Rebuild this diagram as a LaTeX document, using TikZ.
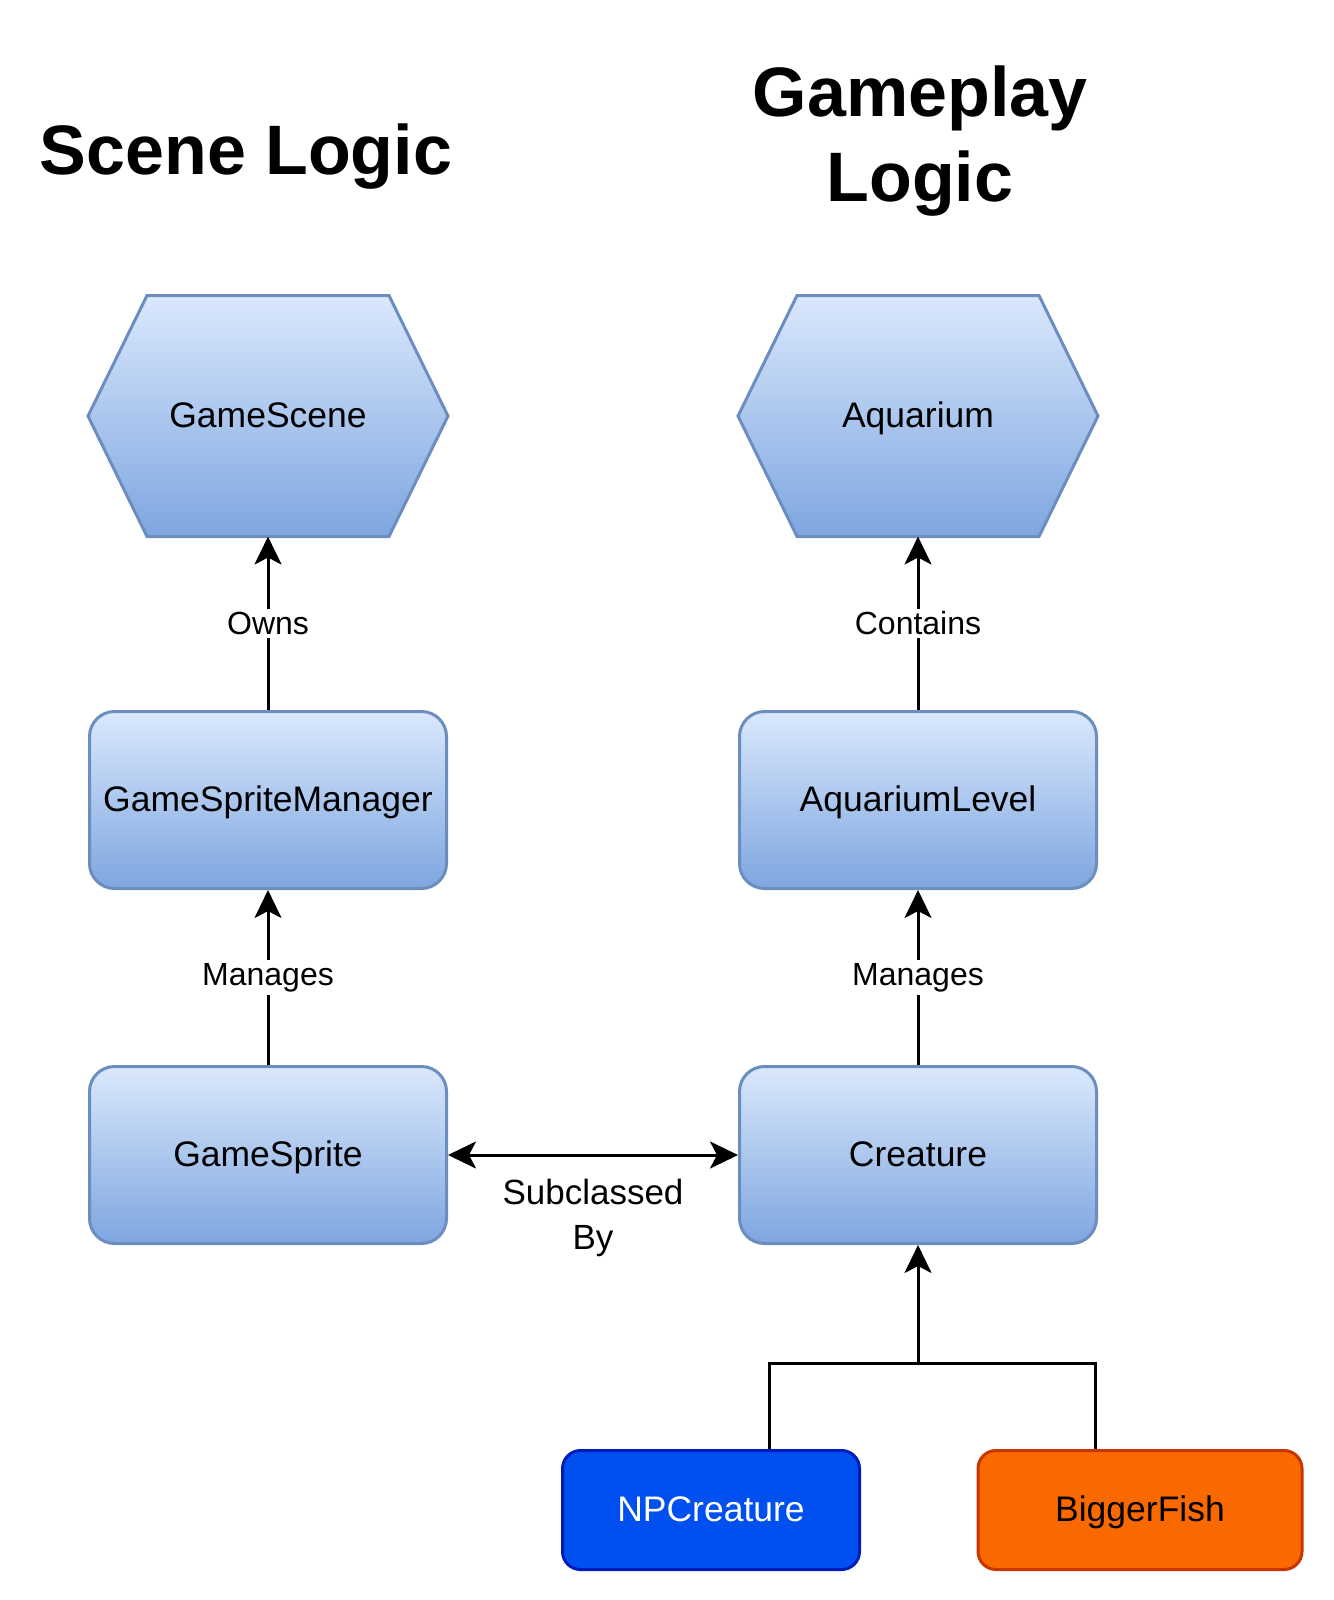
\documentclass[tikz,border=0pt]{standalone}
\usepackage{fontspec}
\setmainfont{Liberation Sans}
\usetikzlibrary{arrows.meta, backgrounds}

\definecolor{blueTop}{HTML}{DAE8FC}
\definecolor{blueBot}{HTML}{7EA6E0}
\definecolor{blueLine}{HTML}{6C8EBF}
\definecolor{npcFill}{HTML}{0050EF}
\definecolor{npcLine}{HTML}{001DBC}
\definecolor{fishFill}{HTML}{FA6800}
\definecolor{fishLine}{HTML}{C73500}

\begin{document}
\begin{tikzpicture}[
    x=1pt, y=-1pt,
    line width=3pt,
    title/.style={font=\fontsize{70}{85}\selectfont\bfseries, align=center},
    box/.style={rectangle, draw=blueLine, line width=3pt, rounded corners=25pt, top color=blueTop, bottom color=blueBot, minimum width=357pt, minimum height=177pt, inner sep=0pt, font=\fontsize{35.5}{42}\selectfont, text height=27pt, text depth=5pt},
    hexbox/.style={rectangle, minimum width=357pt, minimum height=238pt, inner sep=0pt, font=\fontsize{35.5}{42}\selectfont, text height=27pt, text depth=5pt},
    hex_fill/.style={draw=blueLine, line width=3pt, top color=blueTop, bottom color=blueBot},
    small_box/.style={rectangle, line width=3pt, rounded corners=18pt, minimum height=119pt, inner sep=0pt, font=\fontsize{35.5}{42}\selectfont, text height=27pt, text depth=5pt},
    wire/.style={line width=3pt},
    link/.style={wire, -{Stealth[length=28pt, width=27pt, inset=7pt]}},
    both_link/.style={wire, {Stealth[length=28pt, width=27pt, inset=7pt]}-{Stealth[length=28pt, width=27pt, inset=7pt]}},
    arrow_label/.style={midway, fill=white, font=\fontsize{32}{38}\selectfont, inner sep=3pt}
]
    \useasboundingbox (0,0) rectangle (1333,1600);

    % Column titles
    \node[title] (tscene) at (246, 157) {Scene Logic};
    \node[title] (tgame) at (920, 141) {Gameplay\\Logic};

    % Scene side
    \node[hexbox] (gscene) at (268, 416) {GameScene};
    \node[box] (gsm) at (268, 800) {GameSpriteManager};
    \node[box] (gsprite) at (268, 1155) {GameSprite};

    % Gameplay side
    \node[hexbox] (aqua) at (918, 416) {Aquarium};
    \node[box] (alevel) at (918, 800) {AquariumLevel};
    \node[box] (creature) at (918, 1155) {Creature};

    % Subclasses of Creature
    \node[small_box, draw=npcLine, fill=npcFill, text=white, minimum width=297pt] (npc) at (711, 1510) {NPCreature};
    \node[small_box, draw=fishLine, fill=fishFill, minimum width=324pt] (bfish) at (1140, 1510) {BiggerFish};
    \coordinate (jn) at (918, 1363);

    % Hexagon outlines behind the text
    \begin{pgfonlayer}{background}
        \foreach \h in {gscene, aqua}
            \path[hex_fill] (\h.west) -- ([xshift=59pt]\h.north west) -- ([xshift=-59pt]\h.north east)
                -- (\h.east) -- ([xshift=-59pt]\h.south east) -- ([xshift=59pt]\h.south west) -- cycle;
    \end{pgfonlayer}

    % Ownership arrows
    \draw[link] (gsm) -- (gscene) node[arrow_label] {Owns};
    \draw[link] (gsprite) -- (gsm) node[arrow_label] {Manages};
    \draw[link] (alevel) -- (aqua) node[arrow_label] {Contains};
    \draw[link] (creature) -- (alevel) node[arrow_label] {Manages};

    % Subclass link between the columns
    \draw[both_link] (gsprite) -- (creature)
        node[midway, below=20pt, align=center, font=\fontsize{35}{45}\selectfont, inner sep=3pt] {Subclassed\\By};

    % Inheritance tree
    \draw[wire] ([xshift=58pt]npc.north) |- (jn);
    \draw[wire] ([xshift=-45pt]bfish.north) |- (jn);
    \draw[link] (jn) -- (creature);

\end{tikzpicture}
\end{document}
